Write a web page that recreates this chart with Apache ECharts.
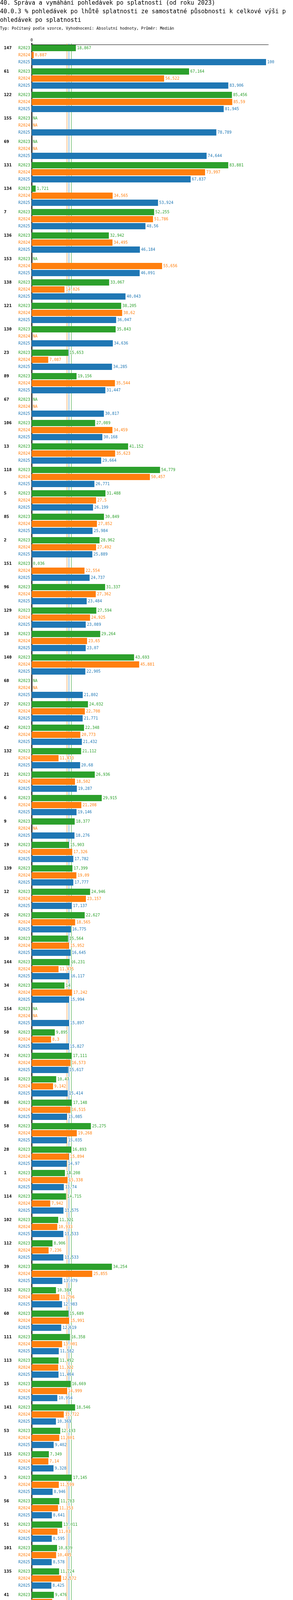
<!DOCTYPE html>
<html>
<head>
<meta charset="utf-8">
<script src="https://cdn.jsdelivr.net/npm/echarts@6/dist/echarts.min.js"></script>
<style>
html,body{margin:0;padding:0;background:#fff;}
#chart{width:750px;height:5334px;}
</style>
</head>
<body>
<div id="chart"></div>
<script>
// ---------------- data ----------------
const titleLines = [
  '40. Správa a vymáhání pohledávek po splatnosti (od roku 2023)',
  '40.0.3 % pohledávek po lhůtě splatnosti ze samostatné působnosti k celkové výši p',
  'ohledávek po splatnosti'
];
const subtitle = 'Typ: Počítaný podle vzorce, Vyhodnocení: Absolutní hodnoty, Průměr: Medián';

const categories = ['147','61','122','155','69','131','134','7','136','153',
  '138','121','130','23','89','67','106','13','118','5',
  '85','2','151','96','129','18','140','68','27','42',
  '132','21','6','9','19','139','12','26','10','144',
  '34','154','50','74','16','86','58','28','1','114',
  '102','112','39','152','60','111','113','15','141','53',
  '115','3','56','51','101','135','41','75','126','125',
  '88','82','93','25','146','33','145','8','43','90',
  '100','14','84','52','76'];

const seriesNames = ['R2023','R2024','R2025'];
const legendTexts = ['Období[R2023]: Realita - 2023','Období[R2024]: Realita - 2024','Období[R2025]: Realita - 2025'];

const r2023 = [18.867,67.164,85.456,null,null,83.881,1.721,52.255,32.942,null,
  33.067,38.205,35.843,15.653,19.156,null,27.089,41.152,54.779,31.488,
  30.849,28.962,0.036,31.337,27.594,29.264,43.693,null,24.032,22.348,
  21.112,26.936,29.915,18.377,15.903,17.399,24.946,22.627,15.564,16.231,
  14,null,9.895,17.111,10.47,17.148,25.275,16.893,14.208,14.715,
  11.321,8.906,34.254,10.384,15.689,16.358,11.492,16.669,18.546,12.193,
  7.349,17.145,11.783,13.011,10.839,11.724,9.476,7.653,17.786,17.095,
  12.474,7.019,14.238,5.134,9.889,8.462,2.534,1.735,0.917,2.277,
  0,0,null,null,36.562];

const r2024 = [0.887,56.522,85.59,null,null,73.997,34.565,51.786,34.495,55.656,
  14.026,38.62,null,7.087,35.544,null,34.459,35.623,50.457,27.5,
  27.852,27.492,22.554,27.362,24.925,23.65,45.881,null,22.708,20.773,
  11.473,18.502,21.208,null,17.326,19.09,23.157,18.565,15.952,11.475,
  17.242,null,8.3,16.573,9.142,16.515,19.268,15.894,15.338,7.942,
  10.933,7.236,25.855,11.796,15.991,13.001,11.322,14.999,13.722,11.801,
  7.14,11.599,11.253,11.03,10.445,12.572,8.764,7.238,10.82,10.588,
  10.799,7.448,6.778,6.591,2.565,1.885,1.76,1.734,1.475,2.19,
  0,0,null,null,null];

const r2025 = [100,83.906,81.945,78.789,74.644,67.837,53.924,48.56,46.184,46.091,
  40.043,36.047,34.636,34.285,31.447,30.817,30.168,29.664,26.771,26.199,
  25.984,25.889,24.737,23.484,23.089,23.07,22.905,21.802,21.771,21.432,
  20.68,19.287,19.146,18.276,17.782,17.777,17.137,16.775,16.645,16.117,
  15.994,15.897,15.827,15.617,15.414,15.085,15.035,14.97,13.74,13.575,
  13.533,13.533,13.079,12.983,12.619,11.582,11.464,10.954,10.369,9.402,
  9.328,8.946,8.641,8.595,8.578,8.425,8.06,7.711,6.865,6.637,
  6.394,5.956,5.544,5.407,2.986,2.443,1.776,1.74,1.527,1.2,
  0,0,null,null,null];

const medians = [16.893, 14.999, 15.946];
const mins = [0, 0, 0];
const maxes = [85.456, 85.59, 100];

const colors = ['#2ca02c', '#ff7f0e', '#1f77b4'];
const seriesValues = [r2023, r2024, r2025];

// ---------------- chart ----------------
const MONO = '"DejaVu Sans Mono", monospace';
const fmt = v => String(v).replace('.', ',');

const chart = echarts.init(document.getElementById('chart'), null, {renderer: 'canvas'});

const series = seriesValues.map((vals, i) => ({
  name: seriesNames[i],
  type: 'bar',
  z: 2,
  barWidth: 16,
  barGap: '12.5%',
  itemStyle: {color: colors[i]},
  label: {
    show: true,
    position: 'right',
    distance: 3,
    fontFamily: MONO,
    fontSize: 10,
    color: colors[i],
    textBorderColor: '#fff',
    textBorderWidth: 2,
    formatter: p => (p.data && p.data.na) ? 'NA' : fmt(p.value)
  },
  data: vals.map(v => v === null
    ? {value: 0, na: true, itemStyle: {color: 'rgba(0,0,0,0)'}}
    : {value: v}),
  markLine: {
    silent: true,
    z: 1,
    symbol: ['none', 'none'],
    label: {show: false},
    emphasis: {disabled: true},
    lineStyle: {color: colors[i], width: 1, type: 'solid'},
    data: [{xAxis: medians[i]}]
  }
}));

const rich = {
  c: {width: 37, align: 'left', fontFamily: MONO, fontWeight: 'bold', fontSize: 11, color: '#000', lineHeight: 18},
  a: {align: 'right', fontFamily: MONO, fontSize: 10, color: colors[0], lineHeight: 18},
  b: {align: 'right', fontFamily: MONO, fontSize: 10, color: colors[1], lineHeight: 18},
  d: {align: 'right', fontFamily: MONO, fontSize: 10, color: colors[2], lineHeight: 18}
};

const graphics = [];
const legendPos = [[80, 5236], [381, 5236], [80, 5256]];
legendTexts.forEach((t, i) => {
  graphics.push({type: 'text', left: legendPos[i][0], top: legendPos[i][1] - 7, silent: true,
    style: {text: t, fill: colors[i], font: '10px ' + MONO}});
});
const statX = [80, 331, 532];
[0, 1, 2].forEach(i => {
  const y = 5276 + i * 20 - 7;
  graphics.push({type: 'text', left: statX[0], top: y, silent: true,
    style: {text: 'Medián: ' + fmt(medians[i]), fill: colors[i], font: '10px ' + MONO}});
  graphics.push({type: 'text', left: statX[1], top: y, silent: true,
    style: {text: 'Min: ' + fmt(mins[i]), fill: colors[i], font: '10px ' + MONO}});
  graphics.push({type: 'text', left: statX[2], top: y, silent: true,
    style: {text: 'Max: ' + fmt(maxes[i]), fill: colors[i], font: '10px ' + MONO}});
});

chart.setOption({
  animation: false,
  backgroundColor: '#fff',
  title: {
    text: titleLines.join('\n'),
    subtext: subtitle,
    left: 0,
    top: -3,
    padding: 0,
    itemGap: 4,
    textStyle: {fontFamily: MONO, fontSize: 15, fontWeight: 'normal', color: '#000', lineHeight: 22},
    subtextStyle: {fontFamily: MONO, fontSize: 10, color: '#000', lineHeight: 12}
  },
  grid: {left: 81, top: 111, width: 606, height: 5100, containLabel: false},
  xAxis: {
    type: 'value',
    position: 'top',
    offset: -3,
    min: 0,
    max: 101,
    splitLine: {show: false},
    axisTick: {show: false},
    axisLine: {show: true, lineStyle: {color: '#000', width: 1}},
    axisLabel: {
      margin: 6,
      fontFamily: MONO,
      fontSize: 10,
      color: '#000',
      formatter: v => (v === 0 ? '0' : '')
    }
  },
  yAxis: {
    type: 'category',
    inverse: true,
    data: categories,
    axisTick: {show: false},
    axisLine: {show: true, lineStyle: {color: '#000', width: 2.5}},
    axisLabel: {
      interval: 0,
      margin: 4,
      align: 'right',
      formatter: v => `{c|${v}}{a|${seriesNames[0]}}\n{b|${seriesNames[1]}}\n{d|${seriesNames[2]}}`,
      rich: rich
    }
  },
  series: series,
  graphic: graphics
});
</script>
</body>
</html>
